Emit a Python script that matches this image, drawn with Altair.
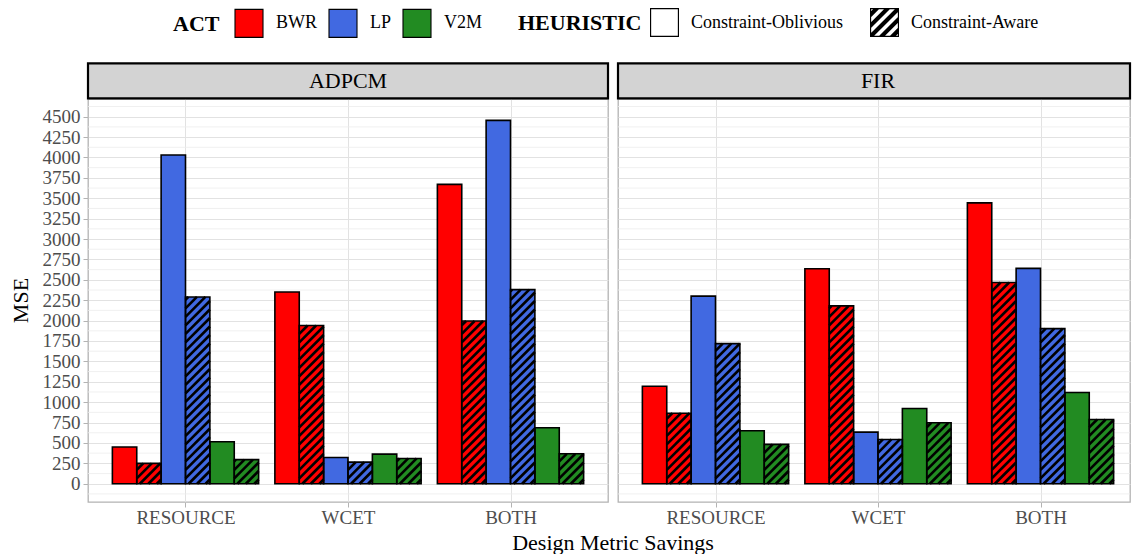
import altair as alt
import pandas as pd

FONT = "Liberation Serif"

benchmarks = ["ADPCM", "FIR"]
metrics = ["RESOURCE", "WCET", "BOTH"]
acts = ["BWR", "LP", "V2M"]
heuristics = ["Constraint-Oblivious", "Constraint-Aware"]
act_colors = ["#FF0000", "#4169E1", "#228B22"]

# MSE per design metric (RESOURCE, WCET, BOTH)
adpcm_bwr_oblivious = [450, 2350, 3670]
adpcm_bwr_aware = [250, 1940, 1995]
adpcm_lp_oblivious = [4030, 322, 4455]
adpcm_lp_aware = [2290, 265, 2380]
adpcm_v2m_oblivious = [515, 363, 686]
adpcm_v2m_aware = [295, 310, 367]

fir_bwr_oblivious = [1195, 2635, 3443]
fir_bwr_aware = [865, 2180, 2467]
fir_lp_oblivious = [2300, 633, 2640]
fir_lp_aware = [1718, 543, 1902]
fir_v2m_oblivious = [649, 922, 1118]
fir_v2m_aware = [482, 747, 788]

mse = {
    ("ADPCM", "BWR"): (adpcm_bwr_oblivious, adpcm_bwr_aware),
    ("ADPCM", "LP"): (adpcm_lp_oblivious, adpcm_lp_aware),
    ("ADPCM", "V2M"): (adpcm_v2m_oblivious, adpcm_v2m_aware),
    ("FIR", "BWR"): (fir_bwr_oblivious, fir_bwr_aware),
    ("FIR", "LP"): (fir_lp_oblivious, fir_lp_aware),
    ("FIR", "V2M"): (fir_v2m_oblivious, fir_v2m_aware),
}

y_ticks = list(range(0, 4501, 250))
y_minor = list(range(-125, 4700, 250))
y_domain = [-224, 4717]

# panel geometry
PANEL_H = 403
PANEL_W = [520, 512]
X_LO = 0.4
PX_PER_X = 162.5
PX_PER_Y = PANEL_H / (y_domain[1] - y_domain[0])
BAR_W = 0.15
HATCH_STEP = 8.5  # pixels between stripes, measured along an axis

GRID = "#e2e2e2"
MINOR = "#ececec"
TICK = "#b3b3b3"

# dodged bars plus the diagonal stripes of the constraint-aware bars
rows, hatch = [], []
for b in benchmarks:
    for mi, m in enumerate(metrics):
        for ai, a in enumerate(acts):
            for hi, h in enumerate(heuristics):
                v = mse[(b, a)][hi][mi]
                x0 = mi + 1 - 0.45 + (ai * 2 + hi) * BAR_W
                rows.append(dict(benchmark=b, metric=m, act=a, heuristic=h,
                                 mse=v, x0=x0, x1=x0 + BAR_W, floor=0))
                if hi == 1:
                    w = BAR_W * PX_PER_X
                    hp = v * PX_PER_Y
                    c = -w + HATCH_STEP / 2
                    while c < hp:
                        u0 = max(0.0, -c)
                        u1 = min(w, hp - c)
                        if u1 - u0 > 0.5:
                            hatch.append(dict(benchmark=b,
                                              hx0=x0 + u0 / PX_PER_X, hy0=(u0 + c) / PX_PER_Y,
                                              hx1=x0 + u1 / PX_PER_X, hy1=(u1 + c) / PX_PER_Y))
                        c += HATCH_STEP

bars_df = pd.DataFrame(rows)
hatch_df = pd.DataFrame(hatch)
minor_df = pd.DataFrame({"v": y_minor})


# legend keys for the heuristic: an outlined box and a striped box
def clip_band(lo, hi):
    poly = [(-1, -1), (1, -1), (1, 1), (-1, 1)]

    def clip(poly, inside, cross):
        out = []
        for i in range(len(poly)):
            p, q = poly[i], poly[(i + 1) % len(poly)]
            if inside(p):
                out.append(p)
                if not inside(q):
                    out.append(cross(p, q))
            elif inside(q):
                out.append(cross(p, q))
        return out

    def crossing(k):
        def f(p, q):
            sp, sq = p[0] + p[1], q[0] + q[1]
            t = (k - sp) / (sq - sp)
            return (p[0] + t * (q[0] - p[0]), p[1] + t * (q[1] - p[1]))
        return f

    poly = clip(poly, lambda p: p[0] + p[1] >= lo, crossing(lo))
    poly = clip(poly, lambda p: p[0] + p[1] <= hi, crossing(hi))
    if len(poly) < 3:
        return ""
    area = sum(poly[i][0] * poly[(i + 1) % len(poly)][1] - poly[(i + 1) % len(poly)][0] * poly[i][1]
               for i in range(len(poly)))
    if area < 0:
        poly = poly[::-1]
    return "M" + "L".join(f"{x:.3f},{y:.3f}" for x, y in poly) + "Z"


t = 0.92
frame = "M-1,-1L1,-1L1,1L-1,1Z" + f"M{-t},{-t}L{-t},{t}L{t},{t}L{t},{-t}Z"
stripes = "".join(clip_band(c - 0.2, c + 0.2) for c in [-1.5, -0.75, 0, 0.75, 1.5])
shape_paths = [frame, frame + stripes]

act_legend = alt.Legend(
    orient="none", legendX=85, legendY=-91, direction="horizontal",
    title="ACT", titleOrient="left", titleFont=FONT, titleFontSize=22,
    titleFontWeight="bold", titleColor="black", titlePadding=14,
    labelFont=FONT, labelFontSize=18, labelColor="black", labelOffset=12,
    columnPadding=8, symbolType="square", symbolSize=784,
    symbolStrokeColor="black", symbolStrokeWidth=1.1, symbolOpacity=1,
)
heur_legend = alt.Legend(
    orient="none", legendX=430, legendY=-91, direction="horizontal",
    title="HEURISTIC", titleOrient="left", titleFont=FONT, titleFontSize=22,
    titleFontWeight="bold", titleColor="black", titlePadding=8,
    labelFont=FONT, labelFontSize=18, labelColor="black", labelOffset=12,
    columnPadding=27, symbolSize=841, symbolFillColor="black",
    symbolStrokeWidth=0, symbolOpacity=1,
)

label_expr = "[" + ",".join(f"'{m}'" for m in metrics) + "][datum.value - 1]"


def panel(bench, width, first):
    xs = alt.Scale(domain=[X_LO, X_LO + width / PX_PER_X], nice=False, zero=False)
    ys = alt.Scale(domain=y_domain, nice=False, zero=False)

    x_kw = dict(values=[1, 2, 3], labelExpr=label_expr, grid=True, gridColor=GRID,
                gridWidth=1, domain=False, tickColor=TICK, tickSize=5, tickWidth=1,
                labelPadding=1.5, labelFont=FONT, labelFontSize=19,
                labelColor="#4d4d4d")
    if first:
        x_kw.update(title="Design Metric Savings", titleX=524.5, titleY=47,
                    titleBaseline="alphabetic", titleAlign="center", titleFont=FONT,
                    titleFontSize=22, titleFontWeight="normal", titleColor="black")
        y_axis = alt.Axis(values=y_ticks, format="d", grid=True, gridColor=GRID,
                          gridWidth=1, domain=False, tickColor=TICK, tickSize=5,
                          tickWidth=1, labelPadding=3, labelFont=FONT, labelFontSize=19,
                          labelColor="#4d4d4d", title="MSE", titleX=-68, titleY=201,
                          titleAngle=270, titleBaseline="middle", titleAlign="center",
                          titleFont=FONT, titleFontSize=22, titleFontWeight="normal",
                          titleColor="black")
    else:
        x_kw.update(title=None)
        y_axis = alt.Axis(values=y_ticks, format="d", grid=True, gridColor=GRID,
                          gridWidth=1, domain=False, ticks=False, labels=False, title=None)
    x_axis = alt.Axis(**x_kw)

    minor = alt.Chart(minor_df).mark_rule(color=MINOR, strokeWidth=0.8).encode(
        y=alt.Y("v:Q", scale=ys, axis=y_axis)
    )
    bars = alt.Chart(bars_df).transform_filter(alt.datum.benchmark == bench)
    enc = dict(
        x=alt.X("x0:Q", scale=xs, axis=x_axis), x2="x1:Q",
        y=alt.Y("floor:Q", scale=ys, axis=y_axis), y2="mse:Q",
    )
    fills = bars.mark_rect().encode(
        fill=alt.Fill("act:N", scale=alt.Scale(domain=acts, range=act_colors),
                      legend=act_legend),
        **enc,
    )
    stripes_layer = (
        alt.Chart(hatch_df).transform_filter(alt.datum.benchmark == bench)
        .mark_rule(color="black", strokeWidth=2.6, strokeCap="butt")
        .encode(x=alt.X("hx0:Q", scale=xs, axis=x_axis), x2="hx1:Q",
                y=alt.Y("hy0:Q", scale=ys, axis=y_axis), y2="hy1:Q")
    )
    outline = bars.mark_rect(fillOpacity=0, stroke="black", strokeWidth=1.6).encode(**enc)

    strip = alt.Chart(alt.Data(values=[{}])).mark_rect(
        fill="#d3d3d3", stroke="black", strokeWidth=2.2
    ).encode(x=alt.value(0), x2=alt.value(width), y=alt.value(-35.7), y2=alt.value(-0.7))
    strip_text = alt.Chart(alt.Data(values=[{}])).mark_text(
        text=bench, font=FONT, fontSize=22, color="black", baseline="middle", align="center"
    ).encode(x=alt.value(260), y=alt.value(-18))

    layers = [minor, fills, stripes_layer, outline, strip, strip_text]
    if first:
        keys = (
            alt.Chart(bars_df).transform_filter("datum.mse < 0")
            .mark_point(filled=True, color="black", size=841, opacity=1)
            .encode(
                x=alt.X("x0:Q", scale=xs, axis=x_axis),
                y=alt.Y("mse:Q", scale=ys, axis=y_axis),
                shape=alt.Shape("heuristic:N",
                                scale=alt.Scale(domain=heuristics, range=shape_paths),
                                legend=heur_legend),
            )
        )
        layers.append(keys)
    return alt.layer(*layers).properties(width=width, height=PANEL_H)


chart = (
    alt.hconcat(panel("ADPCM", PANEL_W[0], True), panel("FIR", PANEL_W[1], False),
                spacing=10, bounds="flush")
    .resolve_scale(fill="shared", shape="shared")
    .properties(padding={"left": 8, "top": 8, "right": 0, "bottom": 0},
                background="white")
    .configure(font=FONT)
    .configure_view(stroke=TICK, strokeWidth=1.3)
)

chart.save("out.html", embed_options={"renderer": "svg", "actions": False})
